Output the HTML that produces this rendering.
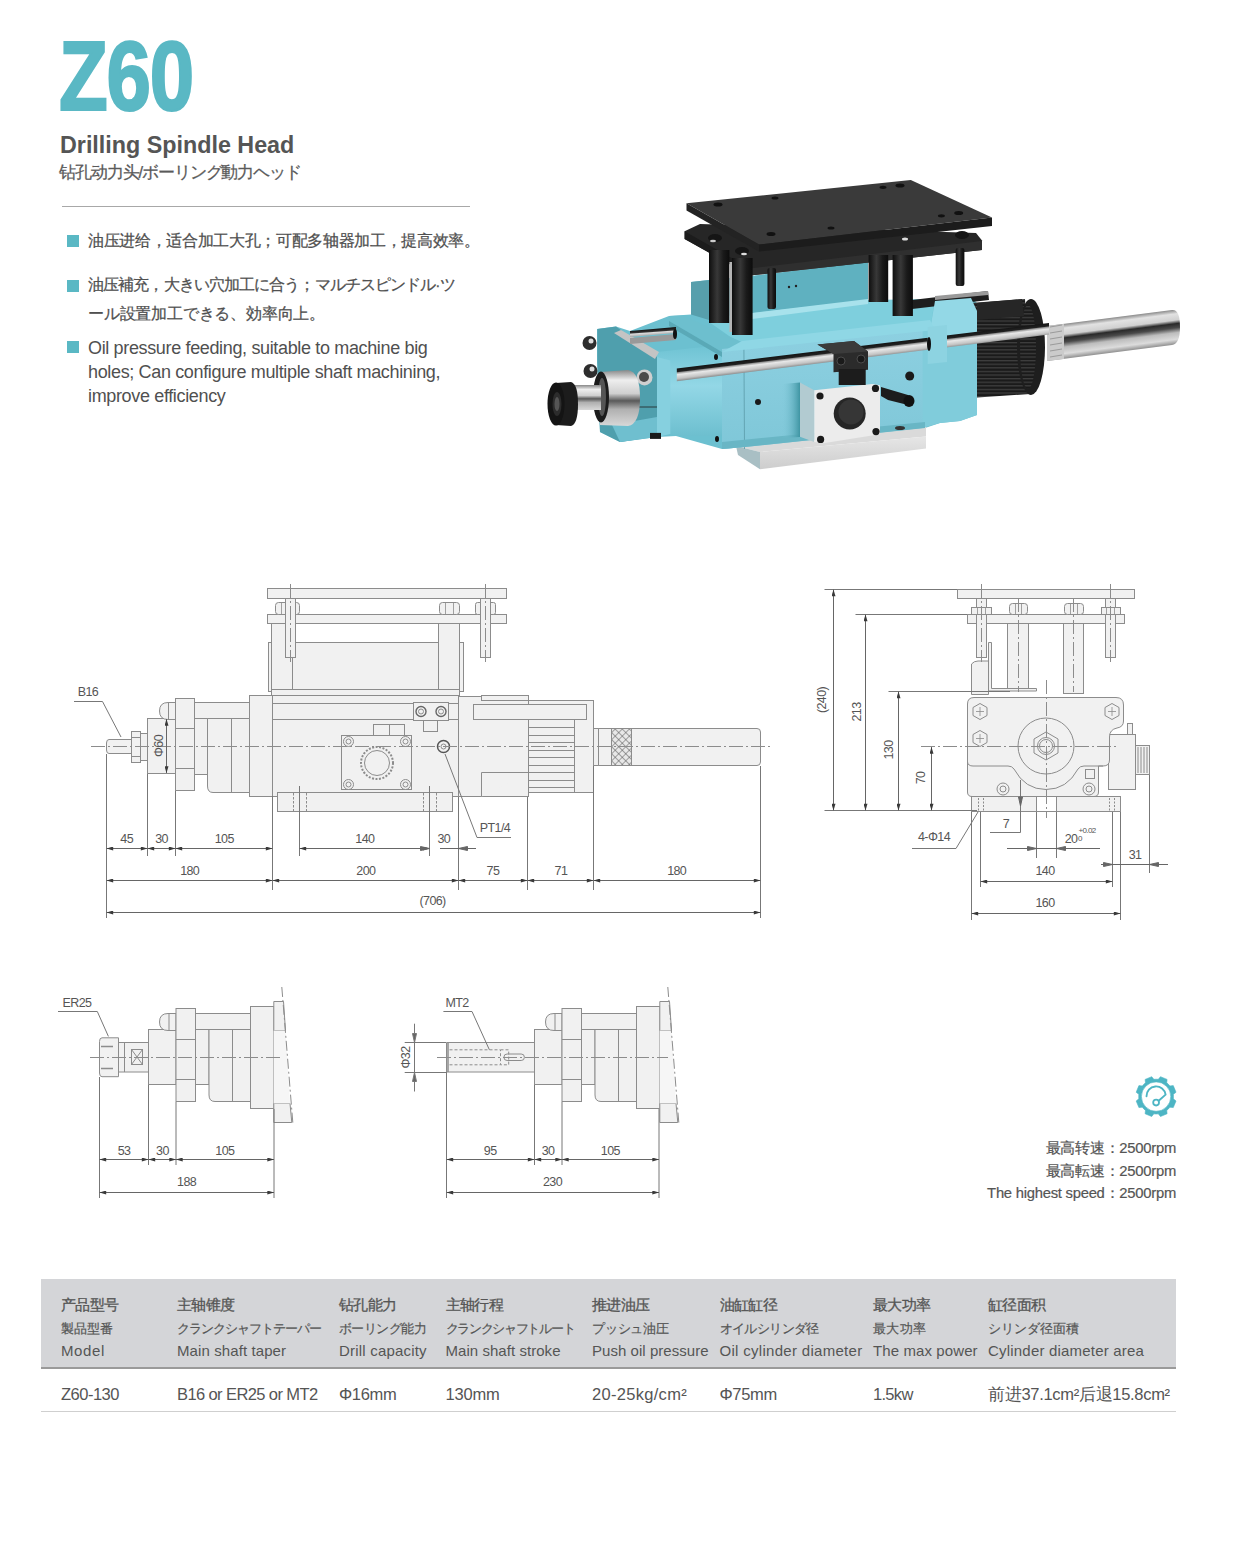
<!DOCTYPE html>
<html><head><meta charset="utf-8">
<style>
*{margin:0;padding:0;box-sizing:border-box}
html,body{width:1240px;height:1542px;background:#fff;overflow:hidden}
body{position:relative;font-family:"Liberation Sans",sans-serif;color:#555}
.abs{position:absolute;white-space:nowrap}
#z60{left:59px;top:26.5px;font-weight:bold;font-size:98px;line-height:1;color:#5ab8c4;transform-origin:0 0;transform:scaleX(0.815);letter-spacing:-1.5px;-webkit-text-stroke:2.2px #5ab8c4}
#title{left:60px;top:134px;font-weight:bold;font-size:23.3px;line-height:1;color:#555}
#sub{left:59px;top:164px;font-size:16.5px;line-height:1;color:#5a5a5a;letter-spacing:-1.1px;-webkit-text-stroke:0.25px #5a5a5a}
#rule{left:62px;top:206px;width:408px;height:1px;background:#a8a8a8}
.sq{position:absolute;width:12px;height:12px;background:#5ab8c4;left:67px}
.bt{position:absolute;left:88px;font-size:15.5px;color:#505050;white-space:nowrap;-webkit-text-stroke:0.25px #505050}
#tbl{position:absolute;left:41px;top:1279px;width:1135px;height:90px;background:#d4d5d8;border-bottom:2px solid #9a9a9a}
#rowline{position:absolute;left:41px;top:1411px;width:1135px;height:1px;background:#cfcfcf}
.h1,.h2,.h3{position:absolute;white-space:nowrap;color:#555;line-height:1}
.h1{top:1298px;font-size:14.5px;-webkit-text-stroke:0.3px #555}
.h2{top:1321.5px;font-size:13px;-webkit-text-stroke:0.2px #555}
.h3{top:1343px;font-size:15px}
.td{position:absolute;top:1386px;font-size:16.5px;line-height:1;color:#555;white-space:nowrap}
.sp{position:absolute;right:64px;font-size:14.8px;line-height:1;letter-spacing:-0.25px;-webkit-text-stroke:0.2px #555;color:#555;white-space:nowrap;text-align:right}
svg{position:absolute;left:0;top:0}
</style></head><body>
<div id="z60" class="abs">Z60</div>
<div id="title" class="abs">Drilling Spindle Head</div>
<div id="sub" class="abs">钻孔动力头/ボーリング動力ヘッド</div>
<div id="rule" class="abs"></div>

<div class="sq" style="top:235px"></div>
<div class="bt" style="top:232px;line-height:18px;letter-spacing:-0.33px">油压进给，适合加工大孔；可配多轴器加工，提高效率。</div>
<div class="sq" style="top:280px"></div>
<div class="bt" style="top:276px;line-height:29px;top:270px"><span style="letter-spacing:-0.9px">油压補充，大きい穴加工に合う；マルチスピンドル·ツ</span><br><span style="letter-spacing:-0.2px">ール設置加工できる、効率向上。</span></div>
<div class="sq" style="top:341px"></div>
<div class="bt" style="top:335.6px;line-height:24.3px;font-size:18px;letter-spacing:-0.35px;-webkit-text-stroke:0">Oil pressure feeding, suitable to machine big<br>holes; Can configure multiple shaft machining,<br>improve efficiency</div>

<!-- speed -->
<div class="sp" style="top:1140.5px">最高转速：2500rpm</div>
<div class="sp" style="top:1163.5px">最高転速：2500rpm</div>
<div class="sp" style="top:1186px">The highest speed：2500rpm</div>

<!-- table -->
<div id="tbl"></div>
<div id="rowline"></div>
<!--TABLE-->
<div class="h1" style="left:61px;letter-spacing:-0.6px">产品型号</div>
<div class="h2" style="left:61px;letter-spacing:0px">製品型番</div>
<div class="h3" style="left:61px;letter-spacing:0.6px">Model</div>
<div class="td" style="left:61px;letter-spacing:-0.5px">Z60-130</div>
<div class="h1" style="left:177px;letter-spacing:-0.6px">主轴锥度</div>
<div class="h2" style="left:177px;letter-spacing:-1.0px">クランクシャフトテーパー</div>
<div class="h3" style="left:177px;letter-spacing:0.1px">Main shaft taper</div>
<div class="td" style="left:177px;letter-spacing:-0.6px">B16 or ER25 or MT2</div>
<div class="h1" style="left:339px;letter-spacing:-0.6px">钻孔能力</div>
<div class="h2" style="left:339px;letter-spacing:-0.55px">ボーリング能力</div>
<div class="h3" style="left:339px;letter-spacing:0.2px">Drill capacity</div>
<div class="td" style="left:339px;letter-spacing:-0.3px">Φ16mm</div>
<div class="h1" style="left:445.5px;letter-spacing:-0.6px">主轴行程</div>
<div class="h2" style="left:445.5px;letter-spacing:-1.3px">クランクシャフトルート</div>
<div class="h3" style="left:445.5px;letter-spacing:0.05px">Main shaft stroke</div>
<div class="td" style="left:445.5px;letter-spacing:-0.2px">130mm</div>
<div class="h1" style="left:592px;letter-spacing:-0.6px">推进油压</div>
<div class="h2" style="left:592px;letter-spacing:-0.25px">プッシュ油圧</div>
<div class="h3" style="left:592px;letter-spacing:0.04px">Push oil pressure</div>
<div class="td" style="left:592px;letter-spacing:0.3px">20-25kg/cm²</div>
<div class="h1" style="left:719.5px;letter-spacing:-0.6px">油缸缸径</div>
<div class="h2" style="left:719.5px;letter-spacing:-0.6px">オイルシリンダ径</div>
<div class="h3" style="left:719.5px;letter-spacing:0.3px">Oil cylinder diameter</div>
<div class="td" style="left:719.5px;letter-spacing:-0.3px">Φ75mm</div>
<div class="h1" style="left:873px;letter-spacing:-0.6px">最大功率</div>
<div class="h2" style="left:873px;letter-spacing:0.4px">最大功率</div>
<div class="h3" style="left:873px;letter-spacing:0.1px">The max power</div>
<div class="td" style="left:873px;letter-spacing:-0.7px">1.5kw</div>
<div class="h1" style="left:988px;letter-spacing:-0.6px">缸径面积</div>
<div class="h2" style="left:988px;letter-spacing:0px">シリンダ径面積</div>
<div class="h3" style="left:988px;letter-spacing:0.2px">Cylinder diameter area</div>
<div class="td" style="left:988px;letter-spacing:-0.3px">前进37.1cm²后退15.8cm²</div>
<!--/TABLE-->

<!--SIDE-->
<svg width="1240" height="1542" viewBox="0 0 1240 1542" style="position:absolute;left:0;top:0">
<defs>
<marker id="ar" viewBox="0 0 10 6" refX="10" refY="3" markerWidth="9" markerHeight="4" orient="auto-start-reverse" markerUnits="userSpaceOnUse"><path d="M0,0 L10,3 L0,6 z" fill="#3a3a3a"/></marker>
<pattern id="kn" width="5" height="5" patternUnits="userSpaceOnUse" patternTransform="rotate(45)"><rect width="5" height="5" fill="#e8e8e8"/><path d="M0,0H5M0,0V5" stroke="#555" stroke-width="1"/></pattern>
</defs>
<g fill="#f1f1f1" stroke="#8c8c8c" stroke-width="1">
<!-- top plates -->
<rect x="267.5" y="588.5" width="239" height="10"/>
<rect x="267.5" y="614.5" width="239" height="9"/>
<!-- nuts between plates -->
<rect x="275.5" y="602.5" width="24" height="12" rx="3"/>
<rect x="439.5" y="602.5" width="20" height="12" rx="3"/>
<rect x="475.5" y="602.5" width="20" height="12" rx="2"/>
<path d="M281.5,603V614 M293.5,603V614 M445.5,603V614 M453.5,603V614 M481.5,603V614 M489.5,603V614" fill="none" stroke-width="0.8"/>
<!-- columns -->
<rect x="271.5" y="623.5" width="21" height="68"/>
<rect x="438.5" y="623.5" width="21" height="68"/>
<rect x="268.5" y="642.5" width="3" height="49"/>
<rect x="459.5" y="642.5" width="4" height="49"/>
<!-- cylinder box -->
<rect x="292.5" y="642.5" width="146" height="47"/>
<rect x="271.5" y="689.5" width="188" height="6"/>
<!-- studs -->
<rect x="285.5" y="598.5" width="10" height="59"/>
<rect x="480.5" y="598.5" width="10" height="59"/>
<!-- main body -->
<rect x="249.5" y="695.5" width="209" height="101"/>
<line x1="272.5" y1="695" x2="272.5" y2="796"/>
<line x1="272.5" y1="703.5" x2="458" y2="703.5"/>
<line x1="272.5" y1="719.5" x2="458" y2="719.5"/>
<!-- right flange piece -->
<path d="M458.5,696.5 H472.5 V726 Q472.5,730.5 468,730.5 H458.5"/>
<!-- rear section -->
<rect x="458.5" y="696.5" width="70" height="100"/>
<path d="M481.5,796.5 V772.5 H528.5"/>
<rect x="481.5" y="695.5" width="47" height="5"/>
<!-- finned -->
<rect x="528.5" y="700.5" width="65" height="92"/>
<rect x="528.5" y="719.5" width="46" height="73"/>
<g fill="none">
<path d="M528.5,727.5H574.5M528.5,735.5H574.5M528.5,742.5H574.5M528.5,750.5H574.5M528.5,757.5H574.5M528.5,765.5H574.5M528.5,772.5H574.5M528.5,780.5H574.5M528.5,787.5H574.5"/>
</g>
<rect x="473.5" y="704.5" width="113" height="15"/>
<!-- rear spindle -->
<rect x="593.5" y="728.5" width="5" height="37"/>
<path d="M598.5,728.5 H757 Q760.5,728.5 760.5,732 V762 Q760.5,765.5 757,765.5 H598.5 z"/>
<rect x="611.5" y="728.5" width="20" height="37" fill="url(#kn)"/>
<!-- base plate -->
<rect x="277.5" y="792.5" width="175" height="19"/>
<path d="M293.5,793V811 M306.5,793V811 M423.5,793V811 M436.5,793V811" fill="none" stroke-dasharray="2.5 1.5"/>
<!-- valve block -->
<rect x="373.5" y="724.5" width="31" height="11"/>
<line x1="389.5" y1="724.5" x2="389.5" y2="735.5"/>
<rect x="341.5" y="735.5" width="70" height="54"/>
<circle cx="377" cy="763" r="16" fill="none" stroke-dasharray="2 1.5" stroke-width="2"/>
<circle cx="377" cy="763" r="12.5" fill="none"/>
<circle cx="348.5" cy="741.5" r="5"/><circle cx="348.5" cy="741.5" r="2.5"/>
<circle cx="405.5" cy="741.5" r="5"/><circle cx="405.5" cy="741.5" r="2.5"/>
<circle cx="348.5" cy="784.5" r="5"/><circle cx="348.5" cy="784.5" r="2.5"/>
<circle cx="405.5" cy="784.5" r="5"/><circle cx="405.5" cy="784.5" r="2.5"/>
<!-- two circle block -->
<rect x="413.5" y="702.5" width="35" height="18"/>
<circle cx="421" cy="711.5" r="5" stroke="#666" stroke-width="1.4"/><circle cx="421" cy="711.5" r="2.5"/>
<circle cx="441" cy="711.5" r="5" stroke="#666" stroke-width="1.4"/><circle cx="441" cy="711.5" r="2.5"/>
<rect x="423.5" y="720.5" width="14" height="11"/>
<circle cx="443.5" cy="746.5" r="6" stroke="#555" stroke-width="1.5"/>
<circle cx="443.5" cy="746.5" r="2.5"/>
<!-- front part: tool -->
<path d="M109,739.5 H131.5 V753.5 H109 Q106.5,753.5 106.5,750 V743 Q106.5,739.5 109,739.5 z"/>
<rect x="131.5" y="731.5" width="9" height="31"/>
<line x1="131.5" y1="737.5" x2="140.5" y2="737.5"/><line x1="131.5" y1="756.5" x2="140.5" y2="756.5"/>
<rect x="140.5" y="733.5" width="7" height="27"/>
<rect x="147.5" y="718.5" width="28" height="55"/>
<path d="M175.5,719.5 H168 Q159.5,719.5 159.5,711 Q159.5,702.5 168,702.5 H175.5 z"/>
<rect x="168.5" y="702.5" width="7" height="17"/>
<rect x="175.5" y="698.5" width="19" height="92"/>
<line x1="175.5" y1="728.5" x2="194.5" y2="728.5"/><line x1="175.5" y1="768.5" x2="194.5" y2="768.5"/>
<rect x="194.5" y="702.5" width="55" height="16"/>
<rect x="194.5" y="718.5" width="13" height="56"/>
<path d="M207.5,718.5 H249.5 V792.5 H213 Q207.5,792.5 207.5,786 z"/>
<line x1="231.5" y1="718.5" x2="231.5" y2="792.5"/>
</g>
<!-- centerline -->
<g stroke="#8c8c8c" stroke-width="1" fill="none" stroke-dasharray="14 3 2 3">
<line x1="91" y1="746.5" x2="770" y2="746.5"/>
<line x1="290.5" y1="584" x2="290.5" y2="662"/>
<line x1="485.5" y1="584" x2="485.5" y2="662"/>
</g>
<!-- dimension / extension lines -->
<g stroke="#777" stroke-width="1" fill="none">
<path d="M106.5,754V918 M147.5,774V856 M175.5,791V856 M272.5,796V890 M299.5,786V856 M429.5,786V856 M458.5,797V890 M527.5,797V890 M593.5,766V890 M760.5,766V918"/>
<path d="M74,701.5 H102.5 L121,737"/>
<path d="M445,754 L477,837.5 H511"/>
</g>
<g stroke="#666" stroke-width="1" fill="none" marker-start="url(#ar)" marker-end="url(#ar)">
<line x1="106.5" y1="848.5" x2="147.5" y2="848.5"/>
<line x1="147.5" y1="848.5" x2="175.5" y2="848.5"/>
<line x1="175.5" y1="848.5" x2="272.5" y2="848.5"/>
<line x1="299.5" y1="848.5" x2="429.5" y2="848.5"/>
<line x1="106.5" y1="880.5" x2="272.5" y2="880.5"/>
<line x1="272.5" y1="880.5" x2="458.5" y2="880.5"/>
<line x1="458.5" y1="880.5" x2="527.5" y2="880.5"/>
<line x1="527.5" y1="880.5" x2="593.5" y2="880.5"/>
<line x1="593.5" y1="880.5" x2="760.5" y2="880.5"/>
<line x1="106.5" y1="912.5" x2="760.5" y2="912.5"/>
<line x1="166.5" y1="719" x2="166.5" y2="773"/>
</g>
<g stroke="#666" stroke-width="1" fill="none">
<line x1="440" y1="848.5" x2="476" y2="848.5"/>
<path d="M429.5,848.5 l-9,-2 v4 z M458.5,848.5 l9,-2 v4 z" fill="#666"/>
</g>
<g font-family="Liberation Sans, sans-serif" font-size="12.5" fill="#555" text-anchor="middle" style="letter-spacing:-0.6px">
<text x="126.7" y="843">45</text>
<text x="161.6" y="843">30</text>
<text x="224.3" y="843">105</text>
<text x="364.9" y="843">140</text>
<text x="443.8" y="843">30</text>
<text x="189.7" y="875">180</text>
<text x="365.9" y="875">200</text>
<text x="492.9" y="875">75</text>
<text x="560.9" y="875">71</text>
<text x="676.7" y="875">180</text>
<text x="432.6" y="905">(706)</text>
<text x="88" y="696">B16</text>
<text x="495" y="832">PT1/4</text>
<text transform="translate(158.5,746) rotate(-90)" y="4">Φ60</text>
</g>
</svg>

<!--/SIDE-->
<!--END-->
<svg width="1240" height="1542" viewBox="0 0 1240 1542" style="position:absolute;left:0;top:0">
<defs>
<marker id="ar2" viewBox="0 0 10 6" refX="10" refY="3" markerWidth="9" markerHeight="4" orient="auto-start-reverse" markerUnits="userSpaceOnUse"><path d="M0,0 L10,3 L0,6 z" fill="#3a3a3a"/></marker>
</defs>
<g fill="#f1f1f1" stroke="#8c8c8c" stroke-width="1">
<rect x="957.5" y="589.5" width="177" height="9"/>
<rect x="967.5" y="614.5" width="157" height="9"/>
<!-- outer studs and nuts -->
<rect x="976.5" y="598.5" width="10" height="59"/>
<rect x="971.5" y="607.5" width="20" height="7"/>
<rect x="1105.5" y="598.5" width="10" height="59"/>
<rect x="1101.5" y="607.5" width="19" height="7"/>
<!-- bolt heads -->
<rect x="1009.5" y="603.5" width="18" height="11" rx="3"/>
<rect x="1064.5" y="603.5" width="19" height="11" rx="3"/>
<path d="M1015.5,604V614 M1021.5,604V614 M1070.5,604V614 M1077.5,604V614 M977.5,608V614 M985.5,608V614 M1106.5,608V614 M1114.5,608V614" fill="none" stroke-width="0.8"/>
<!-- columns -->
<rect x="1007.5" y="623.5" width="21" height="66"/>
<rect x="1063.5" y="623.5" width="20" height="70"/>
<!-- left bracket -->
<path d="M988.5,642.5 H991.5 V688.5 H1036.5 V691 H988.5 z"/>
<path d="M971.5,694.5 V664 Q974,661 978,661 H988.5 V694.5 z"/>
<!-- right block -->
<rect x="1127.5" y="723.5" width="5" height="11"/>
<rect x="1108.5" y="734.5" width="27" height="55"/>
<rect x="1135.5" y="745.5" width="14" height="29"/>
<path d="M1138,747V773 M1141,747V773 M1144,747V773 M1147,747V773" fill="none"/>
<!-- body -->
<path d="M967.5,704 Q967.5,697.5 974,697.5 H1116 Q1123.5,697.5 1123.5,705 V721 Q1123.5,727 1117,728 Q1109.5,729.5 1109.5,737 V760 Q1109.5,766 1103,766 H1098.5 V792 Q1098.5,796.5 1094,796.5 H972 Q967.5,796.5 967.5,792 z"/>
<path d="M967.5,762 Q968,766 973,766 H1008 Q1012,766 1014,769 Q1025,789.5 1046,789.5 Q1067,789.5 1078,769 Q1080,766 1084,766 H1103" fill="none"/>
<circle cx="1046" cy="746" r="28"/>
<polygon points="1046,732 1058,739 1058,753 1046,760 1034,753 1034,739"/>
<circle cx="1046" cy="746" r="8.5"/>
<circle cx="1046" cy="746" r="6.5"/>
<polygon points="980,703.5 987,707.5 987,715.5 980,719.5 973,715.5 973,707.5"/>
<polygon points="980,730.5 987,734.5 987,742.5 980,746.5 973,742.5 973,734.5"/>
<polygon points="1112,703.5 1119,707.5 1119,715.5 1112,719.5 1105,715.5 1105,707.5"/>
<circle cx="1003" cy="789" r="6"/><circle cx="1003" cy="789" r="3"/>
<circle cx="1089" cy="789" r="6"/><circle cx="1089" cy="789" r="3"/>
<rect x="1085.5" y="769.5" width="9" height="9"/>
<!-- base -->
<rect x="971.5" y="796.5" width="149" height="15"/>
<rect x="1036.5" y="796.5" width="20" height="15" fill="#fff"/>
</g>
<g stroke="#8c8c8c" stroke-width="1" fill="none">
<path d="M980,707V716 M976,711.5H984 M980,734V743 M976,738.5H984 M1112,707V716 M1108,711.5H1116" stroke-width="0.8"/>
<path d="M978.5,798V812 M983.5,798V812 M1109.5,798V812 M1114.5,798V812" stroke-dasharray="2 1.5"/>
</g>
<g stroke="#8c8c8c" stroke-width="1" fill="none" stroke-dasharray="14 3 2 3">
<line x1="921" y1="746.5" x2="1118" y2="746.5"/>
<line x1="1046.5" y1="680" x2="1046.5" y2="818"/>
<line x1="981.5" y1="584" x2="981.5" y2="662"/>
<line x1="1110.5" y1="584" x2="1110.5" y2="662"/>
<line x1="1018.5" y1="598" x2="1018.5" y2="692"/>
<line x1="1073.5" y1="598" x2="1073.5" y2="692"/>
</g>
<g stroke="#777" stroke-width="1" fill="none">
<path d="M824.5,589.5H957 M855.5,614.5H967 M888.5,691.5H1010 M824.5,810.5H977"/>
<path d="M971.5,812V920 M980.5,812V887 M1112.5,812V887 M1120.5,812V920 M1036.5,812V858 M1056.5,812V858 M1149.5,775V873"/>
<path d="M1020.5,780V832.5 H990"/>
<path d="M912,848.5 H956 L978,812"/>
</g>
<g stroke="#666" stroke-width="1" fill="none" marker-start="url(#ar2)" marker-end="url(#ar2)">
<line x1="833.5" y1="589.5" x2="833.5" y2="810.5"/>
<line x1="865.5" y1="614.5" x2="865.5" y2="810.5"/>
<line x1="898.5" y1="691.5" x2="898.5" y2="810.5"/>
<line x1="931.5" y1="747" x2="931.5" y2="810.5"/>
<line x1="980.5" y1="881.5" x2="1112.5" y2="881.5"/>
<line x1="971.5" y1="913.5" x2="1120.5" y2="913.5"/>
</g>
<g stroke="#666" stroke-width="1" fill="none">
<path d="M1007,848.5H1100 M1101,864.5H1168"/>
<path d="M1036.5,848.5 l-9,-2 v4 z M1056.5,848.5 l9,-2 v4 z M1112.5,864.5 l-9,-2 v4 z M1149.5,864.5 l9,-2 v4 z M1020.5,806 l-2,-9 h4 z" fill="#666"/>
</g>
<g font-family="Liberation Sans, sans-serif" font-size="12.5" fill="#555" text-anchor="middle" style="letter-spacing:-0.6px">
<text x="1045" y="875">140</text>
<text x="1045" y="907">160</text>
<text x="1135" y="859">31</text>
<text x="1006" y="828">7</text>
<text x="1071" y="843">20</text>
<text x="1087" y="833" font-size="8">+0.02</text>
<text x="1080" y="841" font-size="8">0</text>
<text x="934" y="841">4-Φ14</text>
<text transform="translate(822,700) rotate(-90)" y="4">(240)</text>
<text transform="translate(857,712) rotate(-90)" y="4">213</text>
<text transform="translate(889,750) rotate(-90)" y="4">130</text>
<text transform="translate(921,778) rotate(-90)" y="4">70</text>
</g>
</svg>

<!--/END-->
<!--LOWER-->
<svg width="1240" height="1542" viewBox="0 0 1240 1542" style="position:absolute;left:0;top:0">
<defs><marker id="ar3" viewBox="0 0 10 6" refX="10" refY="3" markerWidth="9" markerHeight="4" orient="auto-start-reverse" markerUnits="userSpaceOnUse"><path d="M0,0 L10,3 L0,6 z" fill="#3a3a3a"/></marker></defs>
<g fill="#f1f1f1" stroke="#8c8c8c" stroke-width="1">
<rect x="118.5" y="1042.5" width="30" height="29.5"/>
<line x1="124.5" y1="1042.5" x2="124.5" y2="1072"/>
<rect x="131.5" y="1049.5" width="11" height="15" fill="none"/><path d="M131.5,1049.5 L142.5,1064.5 M142.5,1049.5 L131.5,1064.5" fill="none"/>
<path d="M102,1037.8 H118.5 V1076.7 H102 Q99.5,1076.7 99.5,1073 V1041.5 Q99.5,1037.8 102,1037.8 z"/>
<path d="M101,1046.5 H113 M101,1068.5 H113" fill="none" stroke-width="1.5"/>
<rect x="148.5" y="1029.5" width="27.5" height="55"/>
<path d="M176,1030.5 H168 Q159.5,1030.5 159.5,1022 Q159.5,1013.5 168,1013.5 H176 z"/>
<rect x="169" y="1013.5" width="7" height="17"/>
<rect x="176" y="1008.5" width="19.5" height="93"/>
<line x1="176" y1="1039.5" x2="195.5" y2="1039.5"/><line x1="176" y1="1079.5" x2="195.5" y2="1079.5"/>
<rect x="195.5" y="1013.5" width="55" height="16.5"/>
<rect x="195.5" y="1029.5" width="13.5" height="55"/>
<path d="M209,1029.5 H250.5 V1101.5 H215 Q209,1101.5 209,1095 z"/>
<line x1="232.5" y1="1029.5" x2="232.5" y2="1101.5"/>
<rect x="250.5" y="1006.5" width="23.5" height="102"/>
<path d="M273.8,1001.5 H283.5 L285.5,1030.5 H273.8 z"/>
<path d="M273.8,1103.5 H290 L291.8,1122.5 H273.8 z"/>
<path d="M274,1030.5 H285.5 L290,1103.5 H274 z" fill="#f6f6f6" stroke="none"/>
<path d="M446.5,1042.5 H534.5 V1072 H446.5 z"/>
<line x1="448" y1="1042.5" x2="448" y2="1072" stroke-width="1.5"/>
<path d="M449.5,1049.8 H500.2 M449.5,1064.8 H500.2 M500.5,1049.8 H508.7 V1064.8 H500.5 z" fill="none" stroke-dasharray="3 2"/>
<rect x="503.9" y="1054" width="20.5" height="6.5" rx="3.2" fill="none"/>
<rect x="534.5" y="1029.5" width="27.5" height="55"/>
<path d="M562,1030.5 H554 Q545.5,1030.5 545.5,1022 Q545.5,1013.5 554,1013.5 H562 z"/>
<rect x="555" y="1013.5" width="7" height="17"/>
<rect x="562" y="1008.5" width="19.5" height="93"/>
<line x1="562" y1="1039.5" x2="581.5" y2="1039.5"/><line x1="562" y1="1079.5" x2="581.5" y2="1079.5"/>
<rect x="581.5" y="1013.5" width="55" height="16.5"/>
<rect x="581.5" y="1029.5" width="13.5" height="55"/>
<path d="M595,1029.5 H636.5 V1101.5 H601 Q595,1101.5 595,1095 z"/>
<line x1="618.5" y1="1029.5" x2="618.5" y2="1101.5"/>
<rect x="636.5" y="1006.5" width="23.5" height="102"/>
<path d="M659.8,1001.5 H669.5 L671.5,1030.5 H659.8 z"/>
<path d="M659.8,1103.5 H676 L677.8,1122.5 H659.8 z"/>
<path d="M660,1030.5 H671.5 L676,1103.5 H660 z" fill="#f6f6f6" stroke="none"/>
</g>
<g stroke="#8c8c8c" stroke-width="1" fill="none">
<path d="M281.8,987 L293,1125" stroke-dasharray="10 3 2 3" fill="none"/>
<path d="M667.8,987 L679,1125" stroke-dasharray="10 3 2 3" fill="none"/>
</g>
<g stroke="#8c8c8c" stroke-width="1" fill="none" stroke-dasharray="14 3 2 3">
<line x1="90" y1="1057.5" x2="282" y2="1057.5"/>
<line x1="437" y1="1057.5" x2="668" y2="1057.5"/>
</g>
<g stroke="#777" stroke-width="1" fill="none">
<path d="M99.5,1077V1198 M148.5,1085V1165 M176,1102V1165 M274,1109V1198"/>
<path d="M446.5,1072V1198 M534.5,1085V1165 M562,1102V1165 M659,1109V1198"/>
<path d="M58,1011.5 H97.3 L108.4,1036.4"/>
<path d="M443.4,1011.5 H472 L489.4,1049.8"/>
<path d="M404.7,1042.5 H446 M404.7,1072.5 H446 M414.5,1023.7 V1091.5"/>
<path d="M414.5,1042.5 l-2,-9 h4 z M414.5,1072.5 l-2,9 h4 z" fill="#666"/>
</g>
<g stroke="#666" stroke-width="1" fill="none" marker-start="url(#ar3)" marker-end="url(#ar3)">
<line x1="99.5" y1="1159.5" x2="148.5" y2="1159.5"/>
<line x1="148.5" y1="1159.5" x2="176" y2="1159.5"/>
<line x1="176" y1="1159.5" x2="274" y2="1159.5"/>
<line x1="446.5" y1="1159.5" x2="534.5" y2="1159.5"/>
<line x1="534.5" y1="1159.5" x2="562" y2="1159.5"/>
<line x1="562" y1="1159.5" x2="659" y2="1159.5"/>
<line x1="99.5" y1="1192.5" x2="274" y2="1192.5"/>
<line x1="446.5" y1="1192.5" x2="659" y2="1192.5"/>
</g>
<g font-family="Liberation Sans, sans-serif" font-size="12.5" fill="#555" text-anchor="middle" style="letter-spacing:-0.6px">
<text x="124" y="1154.5">53</text>
<text x="162.4" y="1154.5">30</text>
<text x="224.9" y="1154.5">105</text>
<text x="186.6" y="1186">188</text>
<text x="490.2" y="1154.5">95</text>
<text x="548" y="1154.5">30</text>
<text x="610.4" y="1154.5">105</text>
<text x="552.5" y="1186">230</text>
<text x="77" y="1007">ER25</text>
<text x="457" y="1007">MT2</text>
<text transform="translate(405.5,1057.5) rotate(-90)" y="4">Φ32</text>
</g>
</svg>
<!--/LOWER-->
<!--PHOTO-->
<svg width="1240" height="1542" viewBox="0 0 1240 1542" style="position:absolute;left:0;top:0">
<defs>
<linearGradient id="gRodF" gradientUnits="userSpaceOnUse" x1="860" y1="345.5" x2="861.6" y2="358.5">
<stop offset="0" stop-color="#111"/><stop offset="0.28" stop-color="#222"/><stop offset="0.36" stop-color="#9a9a9a"/><stop offset="0.5" stop-color="#e8e8e8"/><stop offset="0.8" stop-color="#c4c4c4"/><stop offset="1" stop-color="#8a8a8a"/>
</linearGradient>
<linearGradient id="gRodU" gradientUnits="userSpaceOnUse" x1="653" y1="329" x2="653.5" y2="336">
<stop offset="0" stop-color="#111"/><stop offset="0.35" stop-color="#333"/><stop offset="0.5" stop-color="#ddd"/><stop offset="1" stop-color="#999"/>
</linearGradient>
<linearGradient id="gRodR" gradientUnits="userSpaceOnUse" x1="1110" y1="318" x2="1114.4" y2="352.5">
<stop offset="0" stop-color="#8c8c8c"/><stop offset="0.12" stop-color="#e2e2e2"/><stop offset="0.3" stop-color="#d0d0d0"/><stop offset="0.4" stop-color="#2a2a2a"/><stop offset="0.52" stop-color="#4a4a4a"/><stop offset="0.66" stop-color="#bdbdbd"/><stop offset="0.85" stop-color="#dcdcdc"/><stop offset="1" stop-color="#8e8e8e"/>
</linearGradient>
<linearGradient id="gNose" x1="0" y1="0" x2="0" y2="1">
<stop offset="0" stop-color="#888"/><stop offset="0.18" stop-color="#eee"/><stop offset="0.42" stop-color="#cfcfcf"/><stop offset="0.55" stop-color="#5a5a5a"/><stop offset="0.7" stop-color="#b0b0b0"/><stop offset="1" stop-color="#d8d8d8"/>
</linearGradient>
<linearGradient id="gBlk" x1="0" y1="0" x2="1" y2="0">
<stop offset="0" stop-color="#0e0e0e"/><stop offset="0.4" stop-color="#383838"/><stop offset="0.7" stop-color="#1a1a1a"/><stop offset="1" stop-color="#0c0c0c"/>
</linearGradient>
<linearGradient id="gBase" x1="0" y1="0" x2="0" y2="1">
<stop offset="0" stop-color="#e6e6e6"/><stop offset="1" stop-color="#cdcdcd"/>
</linearGradient>
<linearGradient id="gFront" x1="0" y1="0" x2="0" y2="1">
<stop offset="0" stop-color="#8dd0e1"/><stop offset="1" stop-color="#7fc7d8"/>
</linearGradient>
<linearGradient id="gCyl" x1="0" y1="0" x2="0" y2="1">
<stop offset="0" stop-color="#6ec3d3"/><stop offset="0.45" stop-color="#93d7e6"/><stop offset="1" stop-color="#6dbfcf"/>
</linearGradient>
<pattern id="pKn" width="4" height="3.6" patternUnits="userSpaceOnUse"><rect width="4" height="3.6" fill="#1a1a1a"/><rect width="4" height="1.3" fill="#3e3e3e"/></pattern>
</defs>

<!-- base teal silhouette -->
<polygon points="597,329 616,326.5 630,331 669,316 691,314.5 691,282 709,280 752,276 868,262 868,301 935,299 971,297 977,303 977,415 960,421 940,423 925,428 745,447 722,449 676,436 657,437 620,442 600,432 597,362" fill="#6cc0d0"/>

<!-- ===== upper teal frame (behind plates) ===== -->
<polygon points="691,282 709,280 709,320 691,314.5" fill="#579fac"/>
<polygon points="709,280 752,276 868,262 868,302 752,318 709,320" fill="#5fb1c0"/>
<polygon points="709,318 868,300 935,299 930,330 742,345 709,322" fill="#7ecfdd"/>
<polygon points="752,313 868,299 868,304 752,319" fill="#a8e2ec"/>
<circle cx="789" cy="287" r="1.2" fill="#222"/><circle cx="796" cy="286" r="1.2" fill="#222"/>
<!-- back rod (upper right) -->
<polygon points="912,300 988,291 989,300 912,309" fill="#1e1e1e"/>
<polygon points="935,296 988,291 988,295 935,300" fill="#9a9a9a"/>

<!-- ===== lower plate ===== -->
<polygon points="684.6,231.2 700,224 976,233 982,240.6 982,250 750,275.5 684.6,239" fill="#262626"/>
<polygon points="750,268.5 982,241 982,250 750,275.5" fill="#2f2f2f"/>
<polygon points="684.6,231.2 750,268.5 750,275.5 684.6,239" fill="#1c1c1c"/>

<!-- ===== columns ===== -->
<rect x="767.5" y="268" width="8.5" height="41" fill="url(#gBlk)" rx="2"/>
<rect x="955.7" y="248" width="8.7" height="38" fill="url(#gBlk)" rx="2"/>
<rect x="868.6" y="255" width="19.6" height="47" fill="url(#gBlk)"/>
<rect x="892.6" y="255" width="20.3" height="61" fill="url(#gBlk)"/>
<rect x="709" y="250" width="20.4" height="73" fill="url(#gBlk)"/>
<rect x="732" y="258" width="20.6" height="77" fill="url(#gBlk)"/>
<rect x="729.4" y="262" width="2.6" height="70" fill="#b5b5b5"/>
<ellipse cx="715" cy="238" rx="7" ry="4" fill="#151515"/><ellipse cx="713" cy="241" rx="3" ry="1.3" fill="#ccc"/>
<ellipse cx="742" cy="251" rx="7" ry="4" fill="#151515"/><ellipse cx="744" cy="254" rx="3" ry="1.3" fill="#ddd"/>
<ellipse cx="962" cy="235" rx="7" ry="4" fill="#151515"/>
<ellipse cx="905" cy="239" rx="3" ry="1.5" fill="#ddd"/>

<!-- ===== top plate ===== -->
<polygon points="686.5,203.3 910.8,180.1 992,217.4 759,244.5" fill="#3a3a3a"/>
<polygon points="686.5,203.3 759,244.5 759,251.5 686.5,210.5" fill="#232323"/>
<polygon points="759,244.5 992,217.4 992,226 759,251.5" fill="#1c1c1c"/>
<g fill="#111">
<ellipse cx="718" cy="204.6" rx="4.5" ry="2"/><ellipse cx="775" cy="198" rx="3.5" ry="1.6"/>
<ellipse cx="883" cy="187.3" rx="3.5" ry="1.6"/><ellipse cx="900" cy="185.4" rx="4.5" ry="2"/>
<ellipse cx="941.4" cy="215.8" rx="3.5" ry="1.6"/><ellipse cx="958.7" cy="213.1" rx="4.5" ry="2"/>
<ellipse cx="831" cy="228" rx="3.5" ry="1.6"/><ellipse cx="771" cy="234" rx="4.5" ry="2"/>
</g>

<!-- ===== base plate (silver) ===== -->
<polygon points="736,446 926,427 926,436.5 760,452" fill="#dadada"/>
<polygon points="760,452 926,436.5 926,448.6 760,469.2" fill="url(#gBase)"/>
<polygon points="736,446 760,452 760,469.2 738,455" fill="#a9bfc4"/>

<!-- ===== rear section ===== -->
<polygon points="970,303 1025,299 1030,394 970,398" fill="url(#pKn)"/>
<ellipse cx="1031" cy="347" rx="14" ry="48" fill="#1e1e1e"/>
<ellipse cx="1028" cy="347" rx="8" ry="42" fill="url(#pKn)"/>
<polygon points="977,303 1022,299 1024,316 977,320" fill="#262626"/>
<path d="M1047,326 L1172,310 Q1180,309 1180,327 Q1180,344 1172,345 L1047,361 z" fill="url(#gRodR)"/>
<polygon points="1047,326 1064,324 1064,359 1047,361" fill="#cbcbcb"/>
<path d="M1050,327 L1062,325 M1050,333 L1062,331 M1050,339 L1062,337 M1050,345 L1062,343 M1050,351 L1062,349 M1050,357 L1062,355" stroke="#9a9a9a" stroke-width="1"/>
<!-- rear teal block -->
<polygon points="922,330 940,328 977,325 977,415 960,421 940,423 922,428" fill="#80ccdb"/>
<polygon points="935,301 971,298 977,311 977,338 940,342 930,330" fill="#93d8e6"/>

<!-- ===== main body ===== -->
<!-- cylinder between flange and saddle -->
<path d="M657,352 L722,345 L722,436 L676,436 Q662,432 657,422 z" fill="url(#gCyl)"/>
<!-- saddle top face -->
<polygon points="669,316 683,315.5 744,343 741,350 722,352 669,321" fill="#6dbfce"/>
<polygon points="669,321 722,352 722,357 669,326" fill="#5aa9b7"/>
<!-- front face of main body -->
<polygon points="722,349 922.6,330 922.6,428 745,447 722,449" fill="url(#gFront)"/>
<line x1="743.9" y1="346" x2="744.5" y2="449" stroke="#5a9aa8" stroke-width="0.8"/>
<!-- top face strip of body -->
<polygon points="742,341 930,320 935,330 722,352" fill="#8fd7e5"/>
<!-- lower edge shading -->
<polygon points="722,442 925,422 925,428 745,447 722,449" fill="#69b6c5"/>

<!-- ===== chrome front rod ===== -->
<polygon points="676.8,368.4 1049,323 1049,334.5 676.8,381.3" fill="url(#gRodF)"/>
<polygon points="927.7,327 947,325 947,362 927.7,364" fill="#8dd3e1"/>
<ellipse cx="929" cy="344" rx="2" ry="7" fill="#111"/>

<!-- ===== valve block ===== -->
<linearGradient id="gSh" x1="0" y1="0" x2="1" y2="0"><stop offset="0" stop-color="#7fc7d8" stop-opacity="0"/><stop offset="1" stop-color="#3f95a3"/></linearGradient>
<polygon points="782,384 800,382.6 800,437 782,438" fill="url(#gSh)"/>
<polygon points="800,382.6 814.2,390.3 814.2,442 800,436.8" fill="#b2cbd1"/>
<polygon points="814.2,390.3 872.3,383.9 880,385.2 880,434.2 823.2,443.2 814.2,442" fill="#ececec"/>
<circle cx="849.7" cy="413.5" r="16" fill="#262626"/>
<circle cx="851" cy="412" r="12.5" fill="#363636"/>
<g fill="#1a1a1a">
<circle cx="820" cy="396" r="3.6"/><circle cx="875.5" cy="388.4" r="3.6"/>
<circle cx="820.6" cy="439.4" r="3.6"/><circle cx="876" cy="431.6" r="3.6"/>
</g>
<polygon points="817.4,344.5 854,341 868,351.5 868,369.7 833.5,372.3 833.5,354" fill="#2b2b2b"/>
<polygon points="817.4,344.5 854,341 868,351.5 833.5,354" fill="#3b3b3b"/>
<rect x="838.7" y="369" width="27" height="16" fill="#1c1c1c"/>
<circle cx="841" cy="361" r="4" fill="#1a1a1a" stroke="#555" stroke-width="0.8"/>
<circle cx="861" cy="359" r="4" fill="#1a1a1a" stroke="#555" stroke-width="0.8"/>
<path d="M881,387 L908,395 L912,406 L888,400 L881,396 z" fill="#1c1c1c"/>
<ellipse cx="909" cy="401" rx="5.5" ry="6" fill="#111"/>
<circle cx="909.7" cy="376" r="4.5" fill="#1a1a1a"/>
<circle cx="758" cy="402" r="3" fill="#1a1a1a"/>
<ellipse cx="717" cy="439" rx="2" ry="3" fill="#111"/>
<ellipse cx="716" cy="357" rx="2" ry="3" fill="#111"/>
<ellipse cx="900" cy="428" rx="5" ry="2" fill="#333"/>

<!-- ===== front flange ===== -->
<polygon points="597.4,329 616,326.5 657,357 657,430 652,437 620,442 600,432 597.4,362" fill="#4f9fad"/>
<polygon points="657,357 670.3,360.6 670.3,434 657,437" fill="#86d0df"/>
<polygon points="614,333 621,330 659,352 655,359" fill="#c4c4c4"/>
<polygon points="612,425 657,417 657,437 620,442" fill="#6fbfcf"/>
<line x1="637" y1="407" x2="657" y2="407" stroke="#222" stroke-width="0.8"/>
<!-- upper rods (left) -->
<polygon points="630,331 676,327 676,333 630,337" fill="url(#gRodU)"/>
<polygon points="630,338 676,334 676,340 630,344" fill="url(#gRodU)"/>
<ellipse cx="675" cy="334" rx="2" ry="5" fill="#111"/>
<!-- ball bolts -->
<circle cx="589.5" cy="343" r="7" fill="#2d2d2d"/><circle cx="591" cy="341" r="2.5" fill="#ddd"/>
<circle cx="590.5" cy="371" r="7" fill="#2d2d2d"/><circle cx="592" cy="369" r="2.5" fill="#ddd"/>
<circle cx="644.5" cy="377.4" r="8" fill="#cfcfcf"/><circle cx="644" cy="377" r="5" fill="#4a4a4a"/>
<!-- nose cylinder -->
<path d="M600,372 L628,370 Q640,372 640,398 Q640,424 628,426 L600,425 z" fill="url(#gNose)"/>
<ellipse cx="601" cy="397" rx="8" ry="25.5" fill="#1c1c1c"/>
<ellipse cx="602" cy="397" rx="4" ry="19" fill="#555"/>
<polygon points="574,385 601,385 601,410 574,410" fill="url(#gNose)"/>
<!-- collet -->
<path d="M556,383 L571,382 Q578,384 578,404 Q578,424 571,426 L556,425 z" fill="#1c1c1c"/>
<ellipse cx="556" cy="404" rx="8.5" ry="21.5" fill="#141414"/>
<ellipse cx="557" cy="404" rx="4.5" ry="12" fill="#2c2c2c"/>
<ellipse cx="557" cy="404" rx="2.5" ry="7" fill="#555"/>
<rect x="650" y="432.9" width="11" height="6" fill="#1a1a1a"/>
</svg>

<!--/PHOTO-->
<!--GEAR-->
<svg width="1240" height="1542" viewBox="0 0 1240 1542" style="position:absolute;left:0;top:0">
<path d="M1158.33,1079.34 L1160.48,1076.68 L1167.09,1079.42 L1166.73,1082.82 A17.4,17.4 0 0,1 1169.88,1085.97 L1173.28,1085.61 L1176.02,1092.22 L1173.36,1094.37 A17.4,17.4 0 0,1 1173.36,1098.83 L1176.02,1100.98 L1173.28,1107.59 L1169.88,1107.23 A17.4,17.4 0 0,1 1166.73,1110.38 L1167.09,1113.78 L1160.48,1116.52 L1158.33,1113.86 A17.4,17.4 0 0,1 1153.87,1113.86 L1151.72,1116.52 L1145.11,1113.78 L1145.47,1110.38 A17.4,17.4 0 0,1 1142.32,1107.23 L1138.92,1107.59 L1136.18,1100.98 L1138.84,1098.83 A17.4,17.4 0 0,1 1138.84,1094.37 L1136.18,1092.22 L1138.92,1085.61 L1142.32,1085.97 A17.4,17.4 0 0,1 1145.47,1082.82 L1145.11,1079.42 L1151.72,1076.68 L1153.87,1079.34 A17.4,17.4 0 0,1 1158.33,1079.34 Z M1170.80,1096.6 A14.7,14.7 0 1,0 1141.40,1096.6 A14.7,14.7 0 1,0 1170.80,1096.6 Z" fill="#4db5c4" fill-rule="evenodd" stroke="#4db5c4" stroke-width="0.6" stroke-linejoin="round"/>
<path d="M1146.51,1096.34 A9.6,9.6 0 0,1 1165.61,1094.66 L1158.70,1100.80" fill="none" stroke="#4db5c4" stroke-width="1.9" stroke-linecap="round" stroke-linejoin="round"/>
<circle cx="1156.1" cy="1102.6" r="2.9" fill="none" stroke="#4db5c4" stroke-width="1.8"/>
</svg>
<!--/GEAR-->
<!--SVG-->
</body></html>
